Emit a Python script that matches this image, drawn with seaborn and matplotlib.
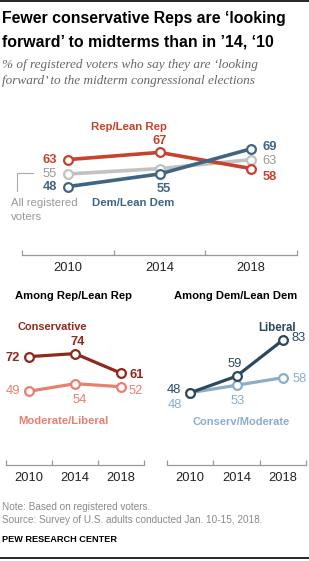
import numpy as np
import pandas as pd
import matplotlib
matplotlib.use("Agg")
import matplotlib.pyplot as plt
from matplotlib.lines import Line2D
import seaborn as sns

sns.set_theme(style="white")
plt.rcParams["font.family"] = ["Liberation Sans", "DejaVu Sans"]

# --- data ---
YEARS = ["2010", "2014", "2018"]
REP = [63, 67, 58]
DEM = [48, 55, 69]
ALL_VOTERS = [55, 58, 63]
CONSERVATIVE = [72, 74, 61]
MOD_LIBERAL = [49, 54, 52]
LIBERAL = [48, 59, 83]
CONS_MODERATE = [48, 53, 58]

C_REP = "#c8412c"
C_DEM = "#3f6583"
C_ALL = "#c2c2c2"
C_CONS = "#8e2a1b"
C_MODLIB = "#e8806f"
C_LIB = "#2b4a5e"
C_CONSMOD = "#8aaec8"
C_AXIS = "#999999"
C_NOTE = "#8a8a8a"

W, H = 309, 561
fig = plt.figure(figsize=(W / 100, H / 100), dpi=100)


def fx(x):
    return x / W


def fy(y):
    return 1 - y / H


def add_axes(left, right, bottom, top):
    return fig.add_axes([fx(left), fy(bottom), (right - left) / W, (bottom - top) / H])


def style_axis(ax, ylim):
    ax.set_xlim(-0.5, 2.5)
    ax.set_ylim(*ylim)
    for s in ["top", "left", "right"]:
        ax.spines[s].set_visible(False)
    ax.spines["bottom"].set_color(C_AXIS)
    ax.spines["bottom"].set_linewidth(0.9)
    ax.set_yticks([])
    ax.set_xticks(range(len(YEARS)))
    ax.set_xticklabels(YEARS, fontsize=9.3, color="#222222")
    ax.tick_params(axis="x", which="major", length=0, pad=5)
    # group separators on the axis line, pointing up (~5 px)
    trans = ax.get_xaxis_transform()
    h = 5 / (ax.get_position().height * H)
    for b in np.arange(len(YEARS) + 1) - 0.5:
        ax.plot([b, b], [0, h], transform=trans, color=C_AXIS, lw=0.9,
                clip_on=False, solid_capstyle="butt")
    ax.set_xlabel("")
    ax.set_ylabel("")
    ax.patch.set_alpha(0)


def draw_line(ax, values, color, lw=2.3):
    df = pd.DataFrame({"x": np.arange(len(values)), "v": values})
    sns.lineplot(data=df, x="x", y="v", ax=ax, color=color, linewidth=lw,
                 marker="o", markersize=6.3, markerfacecolor="white",
                 markeredgecolor=color, markeredgewidth=1.6, clip_on=False)


def label(ax, i, values, text, color, dx, dy, ha="center", va="center", bold=False):
    ax.annotate(text, (i, values[i]), xytext=(dx * 0.72, dy * 0.72),
                textcoords="offset points", ha=ha, va=va, color=color,
                fontsize=9.3, fontweight="bold" if bold else "normal",
                annotation_clip=False)


# --- header ---
fig.add_artist(Line2D([0, 1], [fy(1), fy(1)], color="black", lw=1.2))
fig.text(fx(2), fy(19), "Fewer conservative Reps are \u2018looking", fontsize=11.4,
         fontweight="bold", va="center", ha="left", color="black")
fig.text(fx(2), fy(42), "forward\u2019 to midterms than in \u201914, \u201810", fontsize=11.4,
         fontweight="bold", va="center", ha="left", color="black")
fig.text(fx(2), fy(65), "% of registered voters who say they are \u2018looking",
         fontsize=9.5, style="italic", family=["Liberation Serif", "DejaVu Serif"],
         color="#666666", va="center", ha="left")
fig.text(fx(2), fy(81), "forward\u2019 to the midterm congressional elections",
         fontsize=9.5, style="italic", family=["Liberation Serif", "DejaVu Serif"],
         color="#666666", va="center", ha="left")

# --- top chart ---
ax1 = add_axes(22, 297, 255, 129)
draw_line(ax1, ALL_VOTERS, C_ALL, lw=2.6)
draw_line(ax1, REP, C_REP, lw=2.6)
draw_line(ax1, DEM, C_DEM, lw=2.6)
style_axis(ax1, (10, 80))

label(ax1, 0, REP, "63", C_REP, -11, 0, ha="right", bold=True)
label(ax1, 1, REP, "67", C_REP, 0, 11, bold=True)
label(ax1, 2, REP, "58", C_REP, 11, -8, ha="left", bold=True)
label(ax1, 0, DEM, "48", C_DEM, -11, 0, ha="right", bold=True)
label(ax1, 1, DEM, "55", C_DEM, 4, -15, bold=True)
label(ax1, 2, DEM, "69", C_DEM, 11, 2, ha="left", bold=True)
label(ax1, 0, ALL_VOTERS, "55", "#999999", -11, 0, ha="right")
label(ax1, 2, ALL_VOTERS, "63", "#999999", 11, -1, ha="left")

fig.text(fx(129), fy(127), "Rep/Lean Rep", color=C_REP, fontsize=8.2,
         fontweight="bold", ha="center", va="center")
fig.text(fx(133), fy(203), "Dem/Lean Dem", color=C_DEM, fontsize=8.2,
         fontweight="bold", ha="center", va="center")
fig.text(fx(11), fy(203), "All registered", color="#999999", fontsize=8.2,
         ha="left", va="center")
fig.text(fx(11), fy(217), "voters", color="#999999", fontsize=8.2,
         ha="left", va="center")
fig.add_artist(Line2D([fx(17), fx(33)], [fy(173), fy(173)], color="#aaaaaa", lw=0.8))
fig.add_artist(Line2D([fx(17), fx(17)], [fy(173), fy(191)], color="#aaaaaa", lw=0.8))

# --- bottom left ---
fig.text(fx(15), fy(296), "Among Rep/Lean Rep", fontsize=8.1, fontweight="bold",
         ha="left", va="center", color="black")
ax2 = add_axes(6, 144, 465, 322)
draw_line(ax2, MOD_LIBERAL, C_MODLIB)
draw_line(ax2, CONSERVATIVE, C_CONS)
style_axis(ax2, (0, 95))

label(ax2, 0, CONSERVATIVE, "72", C_CONS, -9, -1, ha="right", bold=True)
label(ax2, 1, CONSERVATIVE, "74", C_CONS, 3, 12, bold=True)
label(ax2, 2, CONSERVATIVE, "61", C_CONS, 8, -2, ha="left", bold=True)
label(ax2, 0, MOD_LIBERAL, "49", C_MODLIB, -9, 0, ha="right")
label(ax2, 1, MOD_LIBERAL, "54", C_MODLIB, 5, -16)
label(ax2, 2, MOD_LIBERAL, "52", C_MODLIB, 8, -4, ha="left")

fig.text(fx(18), fy(327), "Conservative", color=C_CONS, fontsize=7.9,
         fontweight="bold", ha="left", va="center")
fig.text(fx(18), fy(421), "Moderate/Liberal", color=C_MODLIB, fontsize=8.1,
         fontweight="bold", ha="left", va="center")

# --- bottom right ---
fig.text(fx(174), fy(296), "Among Dem/Lean Dem", fontsize=8.1, fontweight="bold",
         ha="left", va="center", color="black")
ax3 = add_axes(167, 306, 465, 322)
draw_line(ax3, CONS_MODERATE, C_CONSMOD)
draw_line(ax3, LIBERAL, C_LIB)
style_axis(ax3, (0, 95))

label(ax3, 0, LIBERAL, "48", C_LIB, -9, 3, ha="right")
label(ax3, 1, LIBERAL, "59", C_LIB, -2, 12)
label(ax3, 2, LIBERAL, "83", C_LIB, 9, 2, ha="left")
label(ax3, 0, CONS_MODERATE, "48", C_CONSMOD, -8, -12, ha="right")
label(ax3, 1, CONS_MODERATE, "53", C_CONSMOD, 1, -16)
label(ax3, 2, CONS_MODERATE, "58", C_CONSMOD, 10, -1, ha="left")

fig.text(fx(296), fy(328), "Liberal", color=C_LIB, fontsize=8.3,
         fontweight="bold", ha="right", va="center")
fig.text(fx(241), fy(422), "Conserv/Moderate", color=C_CONSMOD, fontsize=8.0,
         fontweight="bold", ha="center", va="center")

# --- footer ---
fig.text(fx(2), fy(507), "Note: Based on registered voters.", fontsize=7.2,
         color=C_NOTE, ha="left", va="center")
fig.text(fx(2), fy(520), "Source: Survey of U.S. adults conducted Jan. 10-15, 2018.",
         fontsize=7.2, color=C_NOTE, ha="left", va="center")
fig.text(fx(2), fy(539), "PEW RESEARCH CENTER", fontsize=6.6, fontweight="bold",
         color="black", ha="left", va="center")
fig.add_artist(Line2D([0, 1], [fy(558), fy(558)], color="black", lw=1.2))

fig.savefig("out.png", dpi=100)
